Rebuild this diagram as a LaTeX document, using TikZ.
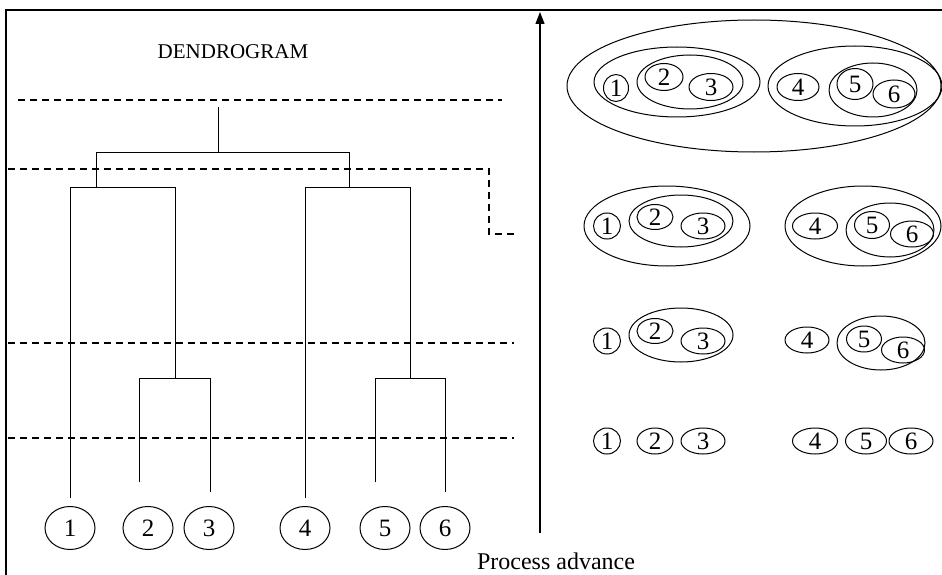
\documentclass[tikz,border=0pt]{standalone}
\usepackage{fontspec}
\setmainfont{Liberation Serif}
\usetikzlibrary{shapes.geometric,arrows.meta}
\begin{document}
\begin{tikzpicture}[x=1pt,y=-1pt,
  ell/.style={draw, ellipse, inner sep=0pt, line width=1pt},
  num/.style={ell, font=\fontsize{25}{25}\selectfont},
  grp/.style={ell},
  dend/.style={line width=1pt},
  cut/.style={line width=1.6pt, dash pattern=on 7pt off 5pt},
  frameline/.style={line width=2pt},
  lbl/.style={font=\fontsize{21}{21}\selectfont, inner sep=0pt}]
\useasboundingbox (0,0) rectangle (942,575);
\fill[white] (0,0) rectangle (942,575);
% frame
\draw[frameline] (6,575) -- (6,10) -- (942,10);
% title
\node[lbl] (title) at (233,52) {DENDROGRAM};
% cut levels
\draw[cut] (18,100) -- (502,100);
\draw[cut] (8,169) -- (489,169) -- (489,234) -- (514,234);
\draw[cut] (8,343) -- (514,343);
\draw[cut] (8,438) -- (514,438);
% dendrogram
\draw[dend] (218,107) -- (218,152);
\draw[dend] (96,187) -- (96,152) -- (349,152) -- (349,187);
\draw[dend] (70,498) -- (70,187) -- (175,187) -- (175,378);
\draw[dend] (305,498) -- (305,187) -- (410,187) -- (410,378);
\draw[dend] (139,482) -- (139,378) -- (210,378) -- (210,492);
\draw[dend] (375,482) -- (375,378) -- (445,378) -- (445,492);
% leaves
\node[num, minimum width=50pt, minimum height=43pt] (b1) at (70,528) {1};
\node[num, minimum width=50pt, minimum height=43pt] (b2) at (148,528) {2};
\node[num, minimum width=50pt, minimum height=43pt] (b3) at (209,528) {3};
\node[num, minimum width=50pt, minimum height=43pt] (b4) at (305,528) {4};
\node[num, minimum width=50pt, minimum height=43pt] (b5) at (385,528) {5};
\node[num, minimum width=50pt, minimum height=43pt] (b6) at (445,528) {6};
% process arrow
\coordinate (abot) at (540,533);
\coordinate (atop) at (540,12);
\draw[line width=1.3pt, -{Triangle[length=12pt,width=9pt]}] (abot) -- (atop);
\node[lbl, font=\fontsize{24}{24}\selectfont] (proc) at (556,561) {Process advance};
% row 1
\node[grp, minimum width=374pt, minimum height=132pt] (r1all) at (754,86) {};
\node[grp, minimum width=166pt, minimum height=70pt] (r1l) at (677,82) {};
\node[grp, minimum width=106pt, minimum height=54pt] (r1l23) at (690,82) {};
\node[num, minimum width=25pt, minimum height=27pt] (r1c1) at (616,88) {1};
\node[num, minimum width=38pt, minimum height=27pt] (r1c2) at (664,77) {2};
\node[num, minimum width=44pt, minimum height=27pt] (r1c3) at (711,87) {3};
\node[grp, minimum width=174pt, minimum height=80pt] (r1r) at (855,86) {};
\node[num, minimum width=42pt, minimum height=27pt] (r1c4) at (798,87) {4};
\node[grp, minimum width=88pt, minimum height=54pt] (r1r56) at (873,90) {};
\node[num, minimum width=36pt, minimum height=31pt] (r1c5) at (855,84) {5};
\node[num, minimum width=42pt, minimum height=28pt] (r1c6) at (894,94) {6};
% row 2
\node[grp, minimum width=166pt, minimum height=80pt] (r2l) at (667,226) {};
\node[grp, minimum width=104pt, minimum height=52pt] (r2l23) at (681,221) {};
\node[num, minimum width=27pt, minimum height=26pt] (r2c1) at (607,226) {1};
\node[num, minimum width=36pt, minimum height=25pt] (r2c2) at (655,217) {2};
\node[num, minimum width=44pt, minimum height=26pt] (r2c3) at (703,226) {3};
\node[grp, minimum width=156pt, minimum height=80pt] (r2r) at (863,226) {};
\node[num, minimum width=45pt, minimum height=26pt] (r2c4) at (815,226) {4};
\node[grp, minimum width=88pt, minimum height=54pt] (r2r56) at (890,230) {};
\node[num, minimum width=35pt, minimum height=27pt] (r2c5) at (872,225) {5};
\node[num, minimum width=43pt, minimum height=26pt] (r2c6) at (912,234) {6};
% row 3
\node[num, minimum width=27pt, minimum height=26pt] (r3c1) at (607,341) {1};
\node[grp, minimum width=104pt, minimum height=54pt] (r3l23) at (681,335) {};
\node[num, minimum width=36pt, minimum height=25pt] (r3c2) at (655,331) {2};
\node[num, minimum width=44pt, minimum height=26pt] (r3c3) at (703,341) {3};
\node[num, minimum width=44pt, minimum height=26pt] (r3c4) at (807,340) {4};
\node[grp, minimum width=88pt, minimum height=54pt] (r3r56) at (881,343) {};
\node[num, minimum width=35pt, minimum height=26pt] (r3c5) at (864,339) {5};
\node[num, minimum width=43pt, minimum height=26pt] (r3c6) at (903,350) {6};
% row 4
\node[num, minimum width=27pt, minimum height=26pt] (r4c1) at (607,441) {1};
\node[num, minimum width=36pt, minimum height=26pt] (r4c2) at (655,441) {2};
\node[num, minimum width=44pt, minimum height=26pt] (r4c3) at (703,441) {3};
\node[num, minimum width=45pt, minimum height=26pt] (r4c4) at (815,441) {4};
\node[num, minimum width=41pt, minimum height=26pt] (r4c5) at (866,441) {5};
\node[num, minimum width=44pt, minimum height=26pt] (r4c6) at (911,441) {6};
\end{tikzpicture}
\end{document}
